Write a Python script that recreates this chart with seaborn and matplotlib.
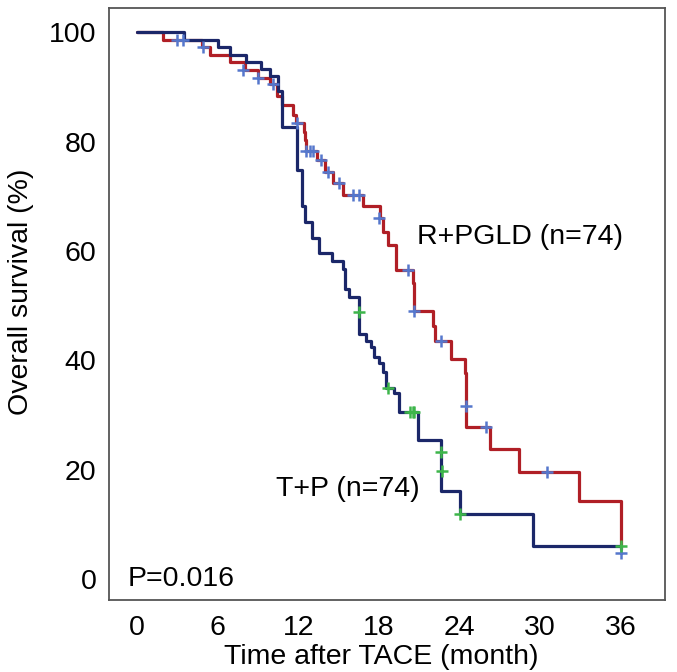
import seaborn as sns
import matplotlib.pyplot as plt

# R+PGLD group (red): step times (months) and survival (%)
red_t = [0, 1.9, 4.8, 5.4, 6.9, 8.0, 9.0, 9.9, 10.4, 10.8, 11.6, 11.8, 12.4, 12.5, 12.6,
         13.4, 14.0, 14.6, 15.3, 16.8, 18.1, 18.3, 18.7, 19.3, 20.5, 20.6, 22.0, 22.2,
         23.4, 24.4, 24.5, 26.3, 28.4, 32.9, 36.0]
red_s = [100, 98.6, 97.3, 95.9, 94.6, 93.0, 91.6, 90.5, 88.4, 86.6, 84.9, 83.4, 81.7, 80.2, 78.2,
         76.7, 74.4, 72.5, 70.2, 68.2, 66.0, 63.5, 61.0, 56.5, 54.2, 49.0, 46.3, 43.5,
         40.2, 37.7, 27.8, 23.8, 19.6, 14.3, 5.6]
red_cens_t = [3.0, 3.4, 4.9, 7.9, 9.0, 10.1, 11.9, 12.6, 12.9, 13.1, 13.7, 14.2, 15.0, 16.1, 16.5,
              18.0, 20.2, 20.6, 22.6, 24.5, 26.0, 30.5, 36.0]
red_cens_s = [98.6, 98.6, 97.3, 93.0, 91.6, 90.5, 83.4, 78.2, 78.2, 78.2, 76.7, 74.4, 72.5, 70.2, 70.2,
              66.0, 56.5, 49.0, 43.5, 31.6, 27.8, 19.6, 4.8]

# T+P group (navy)
navy_t = [0, 3.5, 6.0, 6.9, 8.1, 9.2, 9.9, 10.5, 10.8, 11.9, 12.3, 12.5, 13.0, 13.5, 14.5,
          15.3, 15.5, 15.8, 16.5, 17.0, 17.4, 17.6, 18.0, 18.3, 18.5, 19.1, 19.5, 20.9,
          22.6, 24.0, 29.5, 36.0]
navy_s = [100, 98.6, 97.2, 95.9, 94.6, 93.2, 91.9, 89.3, 82.6, 74.8, 68.3, 65.3, 62.4, 59.7, 58.2,
          56.7, 53.1, 51.5, 44.8, 43.5, 42.4, 40.6, 39.5, 37.8, 35.0, 34.0, 30.5, 25.4,
          16.2, 12.0, 6.1, 6.1]
navy_cens_t = [16.5, 18.7, 20.3, 20.5, 20.6, 22.6, 22.7, 24.0, 36.0]
navy_cens_s = [48.9, 35.0, 30.5, 30.5, 30.5, 23.2, 19.8, 12.0, 6.1]

sns.set_style("white")
plt.rcParams['font.family'] = ['Liberation Sans', 'DejaVu Sans']
plt.rcParams['text.color'] = 'black'
plt.rcParams['axes.labelcolor'] = 'black'
plt.rcParams['xtick.color'] = 'black'
plt.rcParams['ytick.color'] = 'black'

fig = plt.figure(figsize=(6.77, 6.72), dpi=100)
ax = fig.add_axes([109 / 677, 1 - 600 / 672, (665 - 109) / 677, (600 - 8) / 672])

sns.lineplot(x=red_t, y=red_s, ax=ax, color='#b01f26', lw=2.3, drawstyle='steps-post',
             estimator=None, sort=False)
sns.lineplot(x=navy_t, y=navy_s, ax=ax, color='#1b2769', lw=2.3, drawstyle='steps-post',
             estimator=None, sort=False)
sns.scatterplot(x=red_cens_t, y=red_cens_s, ax=ax, marker='+', s=80, color='#5577cc',
                linewidth=1.8, zorder=5)
sns.scatterplot(x=navy_cens_t, y=navy_cens_s, ax=ax, marker='+', s=80, color='#3db54a',
                linewidth=1.8, zorder=5)

ax.set_xlim(-2.1, 39.3)
ax.set_ylim(-3.8, 104.4)
ax.set_xticks(range(0, 37, 6))
ax.set_yticks(range(0, 101, 20))
ax.tick_params(direction='out', length=6, width=1.5, labelsize=20.5, pad=3)
ax.tick_params(axis='x', pad=4.5)
for sp in ax.spines.values():
    sp.set_color('#555')
    sp.set_linewidth(1.3)

ax.set_xlabel('Time after TACE (month)', fontsize=20.5)
ax.set_ylabel('Overall survival (%)', fontsize=20.5)
ax.xaxis.set_label_coords(0.49, -0.075)
ax.yaxis.set_label_coords(-0.135, 0.52)

ax.text(20.8, 62.5, 'R+PGLD (n=74)', fontsize=20.5, va='center', ha='left')
ax.text(10.3, 16.5, 'T+P (n=74)', fontsize=20.5, va='center', ha='left')
ax.text(-0.7, 0, 'P=0.016', fontsize=20.5, va='center', ha='left')

fig.savefig('out.png', dpi=100)
